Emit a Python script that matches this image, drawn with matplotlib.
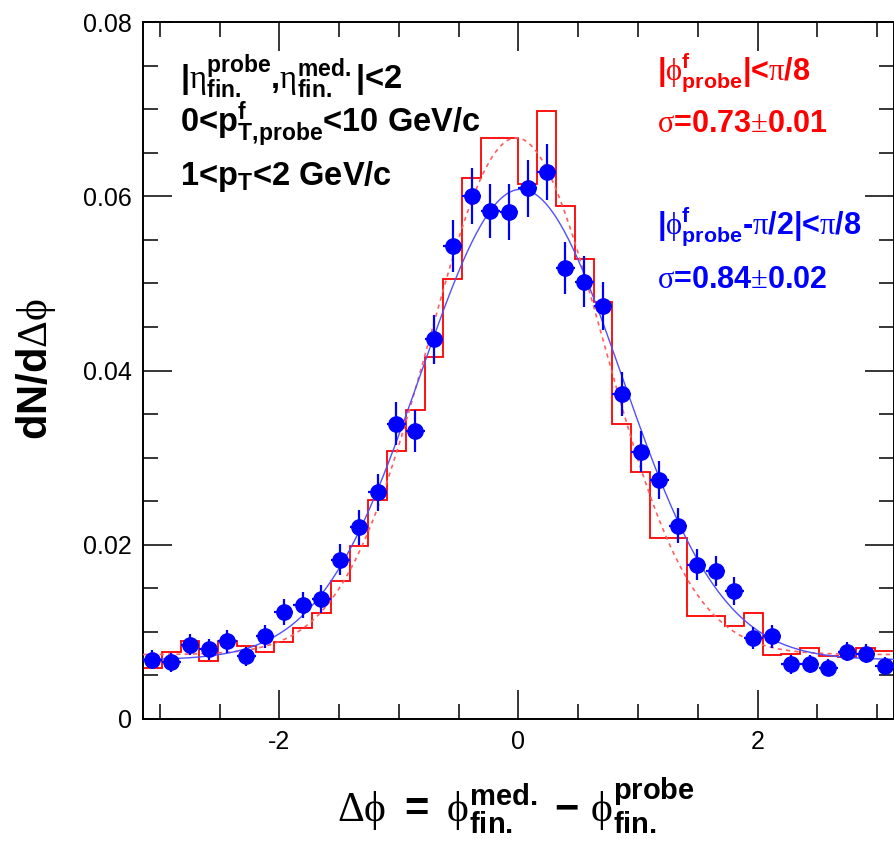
"""Delta-phi distribution, in-plane vs out-of-plane probe (ROOT-style)."""
import numpy as np
import matplotlib
matplotlib.use("Agg")
import matplotlib.pyplot as plt
from matplotlib.ticker import MultipleLocator, FuncFormatter

plt.rcParams["font.family"] = ["Liberation Sans", "DejaVu Sans"]
plt.rcParams["mathtext.fontset"] = "custom"
plt.rcParams["mathtext.rm"] = "Liberation Serif"
plt.rcParams["mathtext.bf"] = "Liberation Sans:bold"
plt.rcParams["mathtext.it"] = "Liberation Sans:italic"

# 40 bins over [-pi, pi]
N_BINS = 40

# red histogram: |phi_probe| < pi/8
hist_red = [0.0059, 0.0077, 0.0089, 0.0067, 0.0090, 0.0084, 0.0077, 0.0088,
            0.0105, 0.0122, 0.0158, 0.0199, 0.0251, 0.0308, 0.0355, 0.0415,
            0.0505, 0.0621, 0.0667, 0.0667, 0.0614, 0.0698, 0.0589, 0.0528,
            0.0479, 0.0339, 0.0283, 0.0208, 0.0208, 0.0118, 0.0118, 0.0107,
            0.0122, 0.0074, 0.0075, 0.0081, 0.0072, 0.0071, 0.0081, 0.0078]

# blue points: |phi_probe - pi/2| < pi/8
pts_blue = [0.0068, 0.0065, 0.0085, 0.0080, 0.0089, 0.0072, 0.0095, 0.0123,
            0.0131, 0.0138, 0.0183, 0.0220, 0.0260, 0.0339, 0.0331, 0.0436,
            0.0543, 0.0600, 0.0583, 0.0582, 0.0609, 0.0628, 0.0518, 0.0502,
            0.0474, 0.0373, 0.0307, 0.0274, 0.0222, 0.0177, 0.0170, 0.0147,
            0.0093, 0.0095, 0.0063, 0.0063, 0.0059, 0.0077, 0.0075, 0.0061]
err_blue = [0.0011, 0.0011, 0.0012, 0.0012, 0.0013, 0.0011, 0.0013, 0.0015,
            0.0015, 0.0016, 0.0018, 0.0020, 0.0021, 0.0025, 0.0024, 0.0028,
            0.0030, 0.0032, 0.0031, 0.0032, 0.0033, 0.0032, 0.0030, 0.0029,
            0.0028, 0.0025, 0.0023, 0.0022, 0.0020, 0.0018, 0.0017, 0.0016,
            0.0013, 0.0013, 0.0011, 0.0010, 0.0010, 0.0011, 0.0011, 0.0010]

# gaussian + constant fit parameters (amp, mean, sigma, const)
FIT_RED = (0.0593, -0.02, 0.73, 0.0074)
FIT_BLUE = (0.0540, 0.02, 0.84, 0.0068)

W, H = 895, 851
fig = plt.figure(figsize=(W / 100, H / 100), dpi=100)
ax = fig.add_axes([143 / W, 1 - 719 / H, 751 / W, 697 / H])

edges = np.linspace(-np.pi, np.pi, N_BINS + 1)
centers = 0.5 * (edges[1:] + edges[:-1])
half_w = 0.5 * (edges[1] - edges[0])

xf = np.linspace(-np.pi, np.pi, 500)


def gaus(x, a, m, s, c):
    return a * np.exp(-0.5 * ((x - m) / s) ** 2) + c


ax.stairs(hist_red, edges, color="#ff0000", lw=1.3, zorder=2)
ax.plot(xf, gaus(xf, *FIT_RED), color="#ff6060", lw=1.2, ls=(0, (2.5, 2.5)), zorder=3)
ax.plot(xf, gaus(xf, *FIT_BLUE), color="#5050ff", lw=1.0, zorder=3)
ax.errorbar(centers, pts_blue, yerr=err_blue, xerr=half_w, fmt="o", color="#0000ff",
            ms=11, elinewidth=1.6, capsize=0, zorder=4)

ax.set_xlim(-np.pi, np.pi)
ax.set_ylim(0, 0.08)
ax.xaxis.set_major_locator(MultipleLocator(2))
ax.xaxis.set_minor_locator(MultipleLocator(0.5))
ax.yaxis.set_major_locator(MultipleLocator(0.02))
ax.yaxis.set_minor_locator(MultipleLocator(0.005))
ax.yaxis.set_major_formatter(FuncFormatter(lambda v, p: "0" if abs(v) < 1e-9 else f"{v:.2f}"))
ax.xaxis.set_major_formatter(FuncFormatter(lambda v, p: f"{v:.0f}"))
ax.tick_params(which="both", direction="in", top=True, right=True, width=1.1,
               labelsize=18, colors="black")
ax.tick_params(which="major", length=21, pad=8)
ax.tick_params(which="minor", length=11)
for sp in ax.spines.values():
    sp.set_linewidth(1.4)

# axis titles
fig.text(516 / W, 1 - 822 / H,
         r"$\mathrm{\Delta\phi}\ \mathbf{=}\ \mathrm{\phi}^{\mathbf{med.}}_{\mathbf{fin.}}"
         r"\ \mathbf{-}\ \mathrm{\phi}^{\mathbf{probe}}_{\mathbf{fin.}}$",
         ha="center", va="baseline", fontsize=30)
fig.text(47 / W, 1 - 369 / H, r"$\mathbf{dN/d}\mathrm{\Delta\phi}$",
         rotation=90, rotation_mode="anchor", ha="center", va="baseline", fontsize=30)

# selection labels (plain bold text, math only for greek and sub/superscripts)
fig.text(180 / W, 1 - 89 / H,
         r"|$\mathrm{\eta}^{\mathbf{probe}}_{\mathbf{fin.}}$,"
         r"$\mathrm{\eta}^{\mathbf{med.}}_{\mathbf{fin.}}$|<2",
         va="baseline", fontsize=23.5, fontweight="bold")
fig.text(180 / W, 1 - 132 / H, r"0<p$^{\mathbf{f}}_{\mathbf{T,\!probe}}$<10 GeV/c",
         va="baseline", fontsize=23.5, fontweight="bold")
fig.text(180 / W, 1 - 185 / H, r"1<p$_{\mathbf{T}}$<2 GeV/c",
         va="baseline", fontsize=23.5, fontweight="bold")

fig.text(657 / W, 1 - 80 / H,
         r"|$\mathrm{\phi}^{\mathbf{f}}_{\mathbf{probe}}$|<$\mathrm{\pi}$/8",
         va="baseline", fontsize=22, color="#ff0000", fontweight="bold")
fig.text(657 / W, 1 - 132 / H, r"$\mathrm{\sigma}$=0.73$\mathrm{\pm}$0.01",
         va="baseline", fontsize=22, color="#ff0000", fontweight="bold")
fig.text(657 / W, 1 - 233 / H,
         r"|$\mathrm{\phi}^{\mathbf{f}}_{\mathbf{probe}}$-$\mathrm{\pi}$/2|<$\mathrm{\pi}$/8",
         va="baseline", fontsize=22, color="#0000ff", fontweight="bold")
fig.text(657 / W, 1 - 288 / H, r"$\mathrm{\sigma}$=0.84$\mathrm{\pm}$0.02",
         va="baseline", fontsize=22, color="#0000ff", fontweight="bold")

fig.savefig("out.png", dpi=100, facecolor="white")
